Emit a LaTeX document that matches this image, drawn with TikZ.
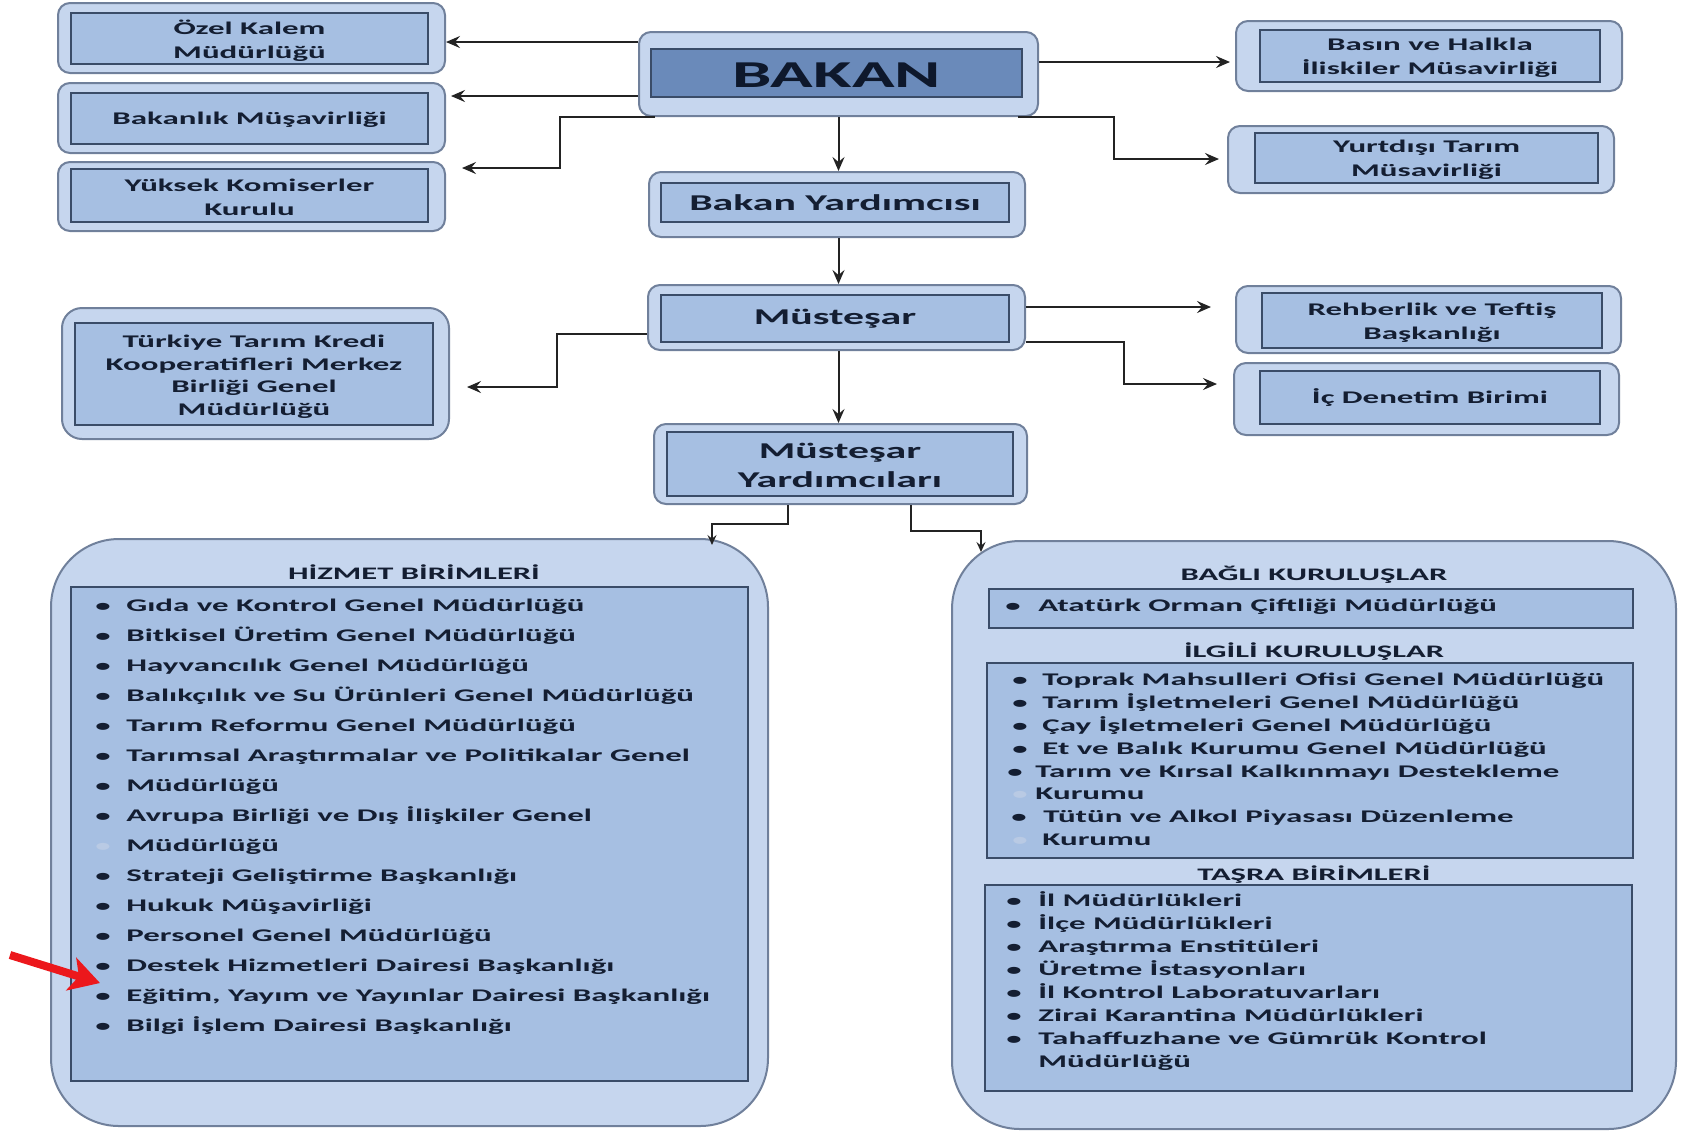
\documentclass[tikz,border=0pt]{standalone}
\usepackage{fontspec}
\setmainfont{Carlito}[FakeStretch=1.85]
\usetikzlibrary{arrows.meta,fit}
\definecolor{ofill}{RGB}{198,214,238}
\definecolor{obord}{RGB}{112,128,155}
\definecolor{ifill}{RGB}{166,191,226}
\definecolor{ibord}{RGB}{58,76,104}
\definecolor{bakfill}{RGB}{106,138,186}
\definecolor{txtc}{RGB}{20,30,50}
\definecolor{arrc}{RGB}{35,35,35}
\definecolor{faintc}{RGB}{185,202,228}
\definecolor{redc}{RGB}{236,24,28}
\begin{document}
\begin{tikzpicture}[x=0.5pt,y=-0.5pt,
  obox/.style={draw=obord, fill=ofill, line width=1pt, rounded corners=6pt, inner sep=0pt},
  ibox/.style={draw=ibord, fill=ifill, line width=1pt, inner sep=0pt},
  bigbox/.style={obox, rounded corners=34pt},
  tx/.style={text=txtc, inner sep=0pt, align=center, yshift=-1pt, font=\bfseries\fontsize{8.9}{11.8}\selectfont},
  mid/.style={text=txtc, inner sep=0pt, align=center, font=\bfseries\fontsize{11.3}{14.5}\selectfont},
  li/.style={text=txtc, inner sep=0pt, anchor=base west, yshift=-1.4pt, font=\bfseries\fontsize{8.9}{11}\selectfont},
  bu/.style={text=txtc, inner sep=0pt, anchor=base, yshift=-1.4pt, font=\bfseries\fontsize{8.3}{11}\selectfont},
  fbu/.style={bu, text=faintc},
  ttl/.style={text=txtc, inner sep=0pt, anchor=base, yshift=-1pt, font=\bfseries\fontsize{8.8}{11}\selectfont},
  arr/.style={draw=arrc, line width=1pt, -{Stealth[length=7pt,width=6pt,inset=2.5pt]}},
  sarr/.style={draw=arrc, line width=0.9pt, -{Stealth[length=5pt,width=4.5pt,inset=1.8pt]}},
  redarr/.style={draw=redc, line width=4pt, -{Stealth[length=15pt,width=17pt,inset=4pt]}}
]
\useasboundingbox[fill=white] (0,0) rectangle (1681,1131);

% ---------- top left boxes
\node[obox, fit={(58,3) (445,73)}] (ozelO) {};
\node[ibox, fit={(71,13) (428,64)}] (ozelI) {};
\node[tx] (ozelT) at (ozelI.center) {Özel Kalem\\Müdürlüğü};

\node[obox, fit={(58,83) (445,153)}] (bakmO) {};
\node[ibox, fit={(71,93) (428,144)}] (bakmI) {};
\node[tx, yshift=0.5pt] (bakmT) at (bakmI.center) {Bakanlık Müşavirliği};

\node[obox, fit={(58,162) (445,231)}] (yuksO) {};
\node[ibox, fit={(71,169) (428,222)}] (yuksI) {};
\node[tx] (yuksT) at (yuksI.center) {Yüksek Komiserler\\Kurulu};

\node[obox, rounded corners=10pt, fit={(62,308) (449,439)}] (turkO) {};
\node[ibox, fit={(75,323) (433,425)}] (turkI) {};
\node[tx, yshift=-0.5pt, font=\bfseries\fontsize{8.9}{11.25}\selectfont] (turkT) at (turkI.center) {Türkiye Tarım Kredi\\Kooperatifleri Merkez\\Birliği Genel\\Müdürlüğü};

% ---------- central column
\node[obox, fit={(639,32) (1038,116)}] (bakanO) {};
\node[ibox, fill=bakfill, fit={(651,49) (1022,97)}] (bakanI) {};
\node[mid, yshift=-1pt, text={rgb,255:red,14;green,24;blue,44}, font=\bfseries\fontsize{19}{22}\selectfont] (bakanT) at (bakanI.center) {BAKAN};

\node[obox, fit={(649,172) (1025,237)}] (byardO) {};
\node[ibox, fit={(661,183) (1009,222)}] (byardI) {};
\node[mid] (byardT) at (byardI.center) {Bakan Yardımcısı};

\node[obox, fit={(648,285) (1025,350)}] (mustO) {};
\node[ibox, fit={(661,295) (1009,342)}] (mustI) {};
\node[mid] (mustT) at (mustI.center) {Müsteşar};

\node[obox, fit={(654,424) (1027,504)}] (myardO) {};
\node[ibox, fit={(667,432) (1013,496)}] (myardI) {};
\node[mid, yshift=-0.5pt] (myardT) at (myardI.center) {Müsteşar\\Yardımcıları};

% ---------- right boxes
\node[obox, fit={(1236,21) (1622,91)}] (basinO) {};
\node[ibox, fit={(1260,30) (1600,82)}] (basinI) {};
\node[tx] (basinT) at (basinI.center) {Basın ve Halkla\\İliskiler Müsavirliği};

\node[obox, fit={(1228,126) (1614,193)}] (yurtO) {};
\node[ibox, fit={(1255,133) (1598,183)}] (yurtI) {};
\node[tx] (yurtT) at (yurtI.center) {Yurtdışı Tarım\\Müsavirliği};

\node[obox, fit={(1236,286) (1621,353)}] (rehbO) {};
\node[ibox, fit={(1262,293) (1602,348)}] (rehbI) {};
\node[tx] (rehbT) at (rehbI.center) {Rehberlik ve Teftiş\\Başkanlığı};

\node[obox, fit={(1234,363) (1619,435)}] (icdenO) {};
\node[ibox, fit={(1260,371) (1600,424)}] (icdenI) {};
\node[tx, yshift=1pt] (icdenT) at (icdenI.center) {İç Denetim Birimi};

% ---------- bottom left big box
\node[bigbox, fit={(51,539) (768,1126)}] (hizO) {};
\node[ibox, fit={(71,587) (748,1081)}] (hizI) {};
\node[ttl] (hizT) at (414,577) {HİZMET BİRİMLERİ};
\foreach \b/\t [count=\i from 0] in {
  bu/Gıda ve Kontrol Genel Müdürlüğü,
  bu/Bitkisel Üretim Genel Müdürlüğü,
  bu/Hayvancılık Genel Müdürlüğü,
  bu/Balıkçılık ve Su Ürünleri Genel Müdürlüğü,
  bu/Tarım Reformu Genel Müdürlüğü,
  bu/Tarımsal Araştırmalar ve Politikalar Genel,
  bu/Müdürlüğü,
  bu/Avrupa Birliği ve Dış İlişkiler Genel,
  fbu/Müdürlüğü,
  bu/Strateji Geliştirme Başkanlığı,
  bu/Hukuk Müşavirliği,
  bu/Personel Genel Müdürlüğü,
  bu/Destek Hizmetleri Dairesi Başkanlığı,
  bu/{Eğitim, Yayım ve Yayınlar Dairesi Başkanlığı},
  bu/Bilgi İşlem Dairesi Başkanlığı}{
  \node[\b] (hb\i) at (103,{608.5+30*\i}) {•};
  \node[li] (hl\i) at (126,{608.5+30*\i}) {\t};
}

% ---------- bottom right big box
\node[bigbox, fit={(952,541) (1676,1129)}] (bagO) {};
\node[ttl] (bagT) at (1314,578) {BAĞLI KURULUŞLAR};
\node[ibox, fit={(989,589) (1633,628)}] (bag1) {};
\node[bu] (b1b) at (1013,609) {•};
\node[li] (b1l) at (1038,609) {Atatürk Orman Çiftliği Müdürlüğü};

\node[ttl] (ilgT) at (1314,655) {İLGİLİ KURULUŞLAR};
\node[ibox, fit={(987,663) (1633,858)}] (bag2) {};
\foreach \bx/\tx/\b/\t [count=\i from 0] in {
  1020/1042/bu/Toprak Mahsulleri Ofisi Genel Müdürlüğü,
  1020/1042/bu/Tarım İşletmeleri Genel Müdürlüğü,
  1020/1042/bu/Çay İşletmeleri Genel Müdürlüğü,
  1020/1042/bu/Et ve Balık Kurumu Genel Müdürlüğü,
  1015/1035/bu/Tarım ve Kırsal Kalkınmayı Destekleme,
  1020/1035/fbu/Kurumu,
  1019/1043/bu/Tütün ve Alkol Piyasası Düzenleme,
  1020/1042/fbu/Kurumu}{
  \node[\b] (ib\i) at (\bx,{683+22.8*\i}) {•};
  \node[li] (il\i) at (\tx,{683+22.8*\i}) {\t};
}

\node[ttl] (tasT) at (1314,878) {TAŞRA BİRİMLERİ};
\node[ibox, fit={(985,885) (1632,1091)}] (bag3) {};
\foreach \t [count=\i from 0] in {
  İl Müdürlükleri,
  İlçe Müdürlükleri,
  Araştırma Enstitüleri,
  Üretme İstasyonları,
  İl Kontrol Laboratuvarları,
  Zirai Karantina Müdürlükleri,
  Tahaffuzhane ve Gümrük Kontrol}{
  \node[bu] (tb\i) at (1014,{903.5+23*\i}) {•};
  \node[li] (tl\i) at (1038,{903.5+23*\i}) {\t};
}
\node[li] (tl7) at (1038,1064.5) {Müdürlüğü};

% ---------- connectors
\coordinate (h1) at (0,42);
\coordinate (h2) at (0,96);
\coordinate (h4) at (0,62);
\coordinate (h8) at (0,307);
\coordinate (h9) at (0,342);
\coordinate (h10) at (0,334);
\coordinate (k3) at (560,168);
\coordinate (k5) at (1114,159);
\coordinate (k9) at (1124,384);
\coordinate (k10) at (557,387);
\coordinate (k12a) at (788,524);
\coordinate (k12b) at (712,545);
\coordinate (k13a) at (911,531);
\coordinate (k13b) at (981,552);

\draw[arr] (bakanO.west |- h1) -- (ozelO.east |- h1);
\draw[arr] (bakanO.west |- h2) -- ([xshift=2.5pt]bakmO.east |- h2);
\draw[arr] ([xshift=8.5pt]bakanO.south west) -| (k3) -- ([xshift=8pt]yuksO.east |- k3);
\draw[arr] (bakanO.east |- h4) -- ([xshift=-2.5pt]basinO.west |- h4);
\draw[arr] ([xshift=-10.5pt]bakanO.south east) -| (k5) -- ([xshift=-4pt]yurtO.west |- k5);
\draw[arr] (bakanO.south) -- (bakanO.south |- byardO.north);
\draw[arr] (bakanO.south |- byardO.south) -- (bakanO.south |- mustO.north);
\draw[arr] (mustO.east |- h8) -- ([xshift=-12pt]rehbO.west |- h8);
\draw[arr] (mustO.east |- h9) -| (k9) -- ([xshift=-8pt]icdenO.west |- k9);
\draw[arr] (mustO.west |- h10) -| (k10) -- ([xshift=8.5pt]turkO.east |- k10);
\draw[arr] (bakanO.south |- mustO.south) -- (bakanO.south |- myardO.north);
\draw[sarr] (myardO.south -| k12a) -- (k12a) -| (k12b);
\draw[sarr] (myardO.south -| k13a) -- (k13a) -| (k13b);

% ---------- red pointer
\coordinate (ra) at (10,955);
\coordinate (rb) at (100,983);
\draw[redarr] (ra) -- (rb);
\end{tikzpicture}
\end{document}
